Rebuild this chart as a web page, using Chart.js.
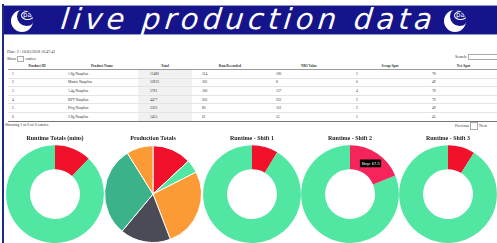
<!DOCTYPE html>
<html>
<head>
<meta charset="utf-8">
<script src="https://cdn.jsdelivr.net/npm/chart.js@4/dist/chart.umd.min.js"></script>
<style>
  body { margin: 0; width: 497px; height: 243px; overflow: hidden; background: #fff; font-family: "Liberation Serif", serif; position: relative; }
  #frame { position: absolute; left: 2px; top: 4px; width: 2px; height: 260px; background: #1c2a8a; }
  #banner { position: absolute; left: 3px; top: 5px; width: 500px; height: 30px; background: #16148a; border: 1px solid #8f9ad0; box-sizing: border-box; }
  #banner .title { position: absolute; left: 57px; top: -4px; color: #fff; font-family: "DejaVu Sans", sans-serif; font-weight: 200; font-style: italic; font-size: 29px; letter-spacing: 4.2px; white-space: nowrap; transform: skewX(-6deg); }
  .logo { position: absolute; top: 4px; width: 22px; height: 22px; border-radius: 50%; background: #fff; overflow: hidden; }
  .logo::after { content: ""; position: absolute; left: 6px; top: -3px; width: 19px; height: 19px; border-radius: 50%; background: #16148a; }
  .logo span { position: absolute; left: 10px; top: 1px; z-index: 2; color: #fff; font: 7px "DejaVu Sans", sans-serif; border: 1px solid #fff; border-radius: 50%; padding: 0 1px; line-height: 7px; }
  .small { position: absolute; font-size: 4px; color: #333; white-space: nowrap; }
  table { position: absolute; left: 8px; top: 62px; width: 489px; border-collapse: collapse; table-layout: fixed; font-size: 3.6px; color: #333; }
  th { font-weight: bold; height: 7px; border-bottom: 1px solid #999; text-align: center; padding: 0; }
  td { height: 7.6px; padding: 0 3px; border-bottom: 0.5px solid #e4e4e4; }
  td.sorted { background: #f1f1f1; }
  tr:last-child td { border-bottom: 1.5px solid #777; }
  .box { display: inline-block; border: 0.5px solid #aaa; width: 5px; height: 4px; vertical-align: middle; }
  canvas { position: absolute; top: 131px; }
</style>
</head>
<body>
<div id="banner">
  <div class="logo" style="left:7px"><span>pa</span></div>
  <div class="title">live production data</div>
  <div class="logo" style="left:440px"><span>pa</span></div>
</div>
<div id="frame"></div>

<div class="small" style="left:7px; top:49px;">Date: 2 / 10/05/2018 16:47:41</div>
<div class="small" style="left:7px; top:56px;">Show <span class="box"></span> entries</div>
<div class="small" style="left:455px; top:54px;">Search: <span class="box" style="width:30px"></span></div>
<table id="tbl"></table>
<div class="small" style="left:5px; top:122px;">Showing 1 to 6 of 6 entries</div>
<div class="small" style="left:455px; top:122px;">Previous <span class="box" style="width:6px;height:6px"></span> Next</div>

<canvas id="c0" width="98" height="112" style="left:6px"></canvas>
<canvas id="c1" width="98" height="112" style="left:104px"></canvas>
<canvas id="c2" width="98" height="112" style="left:203px"></canvas>
<canvas id="c3" width="98" height="112" style="left:301px"></canvas>
<canvas id="c4" width="98" height="112" style="left:399px"></canvas>

<script>
// table data
const columns = ["Product ID", "Product Name", "Total", "Run Recorded", "NRI Value", "Scrap Spot", "Net Spot"];
const columnWidths = [58, 72, 54, 76, 82, 80, 67];
const productIds = [1, 2, 3, 4, 5, 6];
const productNames = ["1.8g Nauplius", "Mantis Nauplius", "1.4g Nauplius", "BPT Nauplius", "Pfcg Nauplius", "2.8g Nauplius"];
const totals = [11480, 10923, 5781, 4477, 3302, 1455];
const runRecorded = [314, 305, 160, 203, 80, 61];
const nriValues = [180, 8, 137, 222, 101, 55];
const scrapSpot = [3, 0, 4, 2, 2, 5];
const netSpot = [78, 49, 78, 79, 49, 45];

// chart data
const chartTitles = ["Runtime Totals (mins)", "Production Totals", "Runtime - Shift 1", "Runtime - Shift 2", "Runtime - Shift 3"];
const runtimeLabels = ["Stop", "Run"];
const runtimeTotal = [130.5, 949.5];
const runtimeShift1 = [31, 329];
const runtimeShift2 = [67.5, 292.5];
const runtimeShift3 = [32, 328];
const productionTotals = [1320, 450, 2700, 1710, 3040, 900];

const RED = "#f2112b";
const GREEN = "#52e6a3";
const pieColors = [RED, GREEN, "#fc9a36", "#4a4b57", "#3cb28b", "#fc9a36"];

// build table
const tbl = document.getElementById("tbl");
let html = "<tr>" + columns.map((c, i) => "<th style='width:" + columnWidths[i] + "px'>" + c + "</th>").join("") + "</tr>";
productIds.forEach((id, i) => {
  html += "<tr><td style='padding-left:4px'>" + id + "</td><td style='padding-left:2px'>" + productNames[i] + "</td>" +
    "<td class='sorted' style='padding-left:12px'>" + totals[i] + "</td><td style='padding-left:10px'>" + runRecorded[i] + "</td><td style='padding-left:8px'>" + nriValues[i] +
    "</td><td style='padding-left:6px'>" + scrapSpot[i] + "</td><td style='padding-left:2px'>" + netSpot[i] + "</td></tr>";
});
tbl.innerHTML = html;

function makeChart(id, title, type, labels, values, colors, hover) {
  return new Chart(document.getElementById(id), {
    type: type,
    data: {
      labels: labels,
      datasets: [{
        data: values,
        backgroundColor: colors,
        hoverBackgroundColor: hover || colors,
        borderWidth: type === "pie" ? 1 : 0,
        borderColor: "#fff",
        hoverOffset: 0
      }]
    },
    options: {
      responsive: false,
      animation: false,
      cutout: type === "pie" ? 0 : "51%",
      layout: { padding: 0 },
      events: [],
      plugins: {
        legend: { display: false },
        title: {
          display: true,
          text: title,
          color: "#222",
          font: { family: "Liberation Serif", size: 6, weight: "bold" },
          padding: { top: 4, bottom: 3 }
        },
        tooltip: {
          enabled: true,
          displayColors: false,
          backgroundColor: "#000",
          titleFont: { size: 1 },
          titleMarginBottom: 0,
          bodyFont: { family: "Liberation Sans", size: 4 },
          padding: 1.5,
          caretSize: 0,
          cornerRadius: 1,
          xAlign: "center",
          yAlign: "center",
          callbacks: {
            title: () => "",
            label: (ctx) => ctx.label + ": " + ctx.parsed
          }
        }
      }
    }
  });
}

makeChart("c0", chartTitles[0], "doughnut", runtimeLabels, runtimeTotal, [RED, GREEN]);
makeChart("c1", chartTitles[1], "pie", productNames, productionTotals, pieColors);
makeChart("c2", chartTitles[2], "doughnut", runtimeLabels, runtimeShift1, [RED, GREEN]);
const shift2 = makeChart("c3", chartTitles[3], "doughnut", runtimeLabels, runtimeShift2, [RED, GREEN], ["#f5245a", GREEN]);
makeChart("c4", chartTitles[4], "doughnut", runtimeLabels, runtimeShift3, [RED, GREEN]);

// hovered segment with tooltip, as in the screenshot
shift2.setActiveElements([{ datasetIndex: 0, index: 0 }]);
shift2.tooltip.setActiveElements([{ datasetIndex: 0, index: 0 }], { x: 70, y: 28 });
shift2.update();
</script>
</body>
</html>
